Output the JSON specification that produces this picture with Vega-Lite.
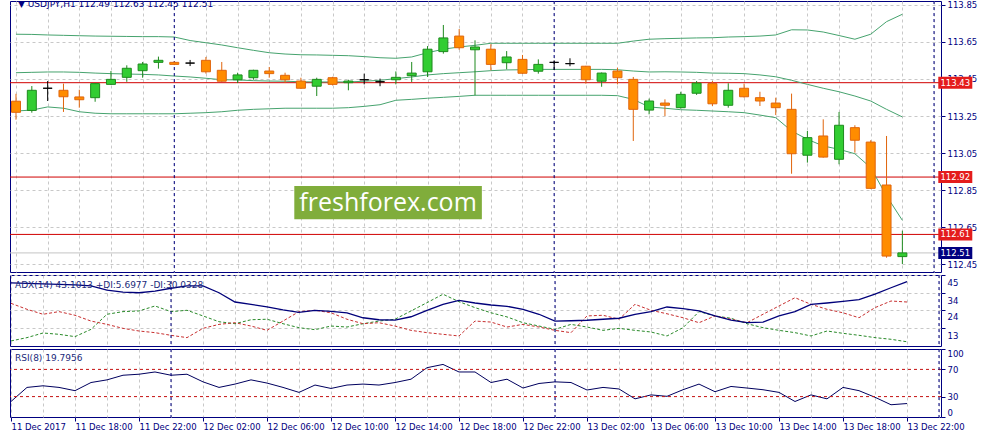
{
  "$schema": "https://vega.github.io/schema/vega-lite/v6.json",
  "background": "white",
  "padding": {"left": 7, "top": 0, "right": 0, "bottom": 0},
  "spacing": 3,
  "bounds": "flush",
  "config": {
    "view": {"stroke": "#000080", "strokeWidth": 1},
    "axis": {
      "labelFont": "DejaVu Sans",
      "labelFontSize": 8.5,
      "labelColor": "#000080",
      "tickColor": "#000080",
      "domainColor": "#000080",
      "gridColor": "#c8c8c8",
      "gridDash": [3, 3]
    }
  },
  "datasets": {
    "bars": [
      {"t": "2017-12-11T14:00:00Z", "o": 113.33, "h": 113.37, "l": 113.23, "c": 113.27, "ub": 113.692, "mb": 113.484, "lb": 113.277, "adx": 40.2, "pdi": 5.2, "mdi": 27.9, "rsi": 22.8},
      {"t": "2017-12-11T15:00:00Z", "o": 113.28, "h": 113.412, "l": 113.268, "c": 113.389, "ub": 113.691, "mb": 113.486, "lb": 113.282, "adx": 39.9, "pdi": 7.2, "mdi": 24.3, "rsi": 43.5},
      {"t": "2017-12-11T16:00:00Z", "o": 113.4, "h": 113.439, "l": 113.331, "c": 113.4, "ub": 113.688, "mb": 113.488, "lb": 113.299, "adx": 39.6, "pdi": 10.0, "mdi": 21.3, "rsi": 45.9},
      {"t": "2017-12-11T17:00:00Z", "o": 113.389, "h": 113.425, "l": 113.272, "c": 113.354, "ub": 113.686, "mb": 113.488, "lb": 113.292, "adx": 39.3, "pdi": 9.2, "mdi": 22.9, "rsi": 43.5},
      {"t": "2017-12-11T18:00:00Z", "o": 113.353, "h": 113.392, "l": 113.295, "c": 113.338, "ub": 113.684, "mb": 113.486, "lb": 113.273, "adx": 39.0, "pdi": 7.8, "mdi": 20.7, "rsi": 38.7},
      {"t": "2017-12-11T19:00:00Z", "o": 113.349, "h": 113.425, "l": 113.327, "c": 113.425, "ub": 113.682, "mb": 113.482, "lb": 113.265, "adx": 38.4, "pdi": 12.2, "mdi": 17.2, "rsi": 50.7},
      {"t": "2017-12-11T20:00:00Z", "o": 113.421, "h": 113.493, "l": 113.418, "c": 113.448, "ub": 113.681, "mb": 113.479, "lb": 113.262, "adx": 35.9, "pdi": 21.3, "mdi": 15.2, "rsi": 54.6},
      {"t": "2017-12-11T21:00:00Z", "o": 113.459, "h": 113.524, "l": 113.435, "c": 113.508, "ub": 113.68, "mb": 113.477, "lb": 113.262, "adx": 34.7, "pdi": 22.9, "mdi": 12.8, "rsi": 61.4},
      {"t": "2017-12-11T22:00:00Z", "o": 113.495, "h": 113.542, "l": 113.457, "c": 113.531, "ub": 113.679, "mb": 113.475, "lb": 113.262, "adx": 34.3, "pdi": 23.3, "mdi": 11.2, "rsi": 62.9},
      {"t": "2017-12-11T23:00:00Z", "o": 113.54, "h": 113.571, "l": 113.506, "c": 113.551, "ub": 113.679, "mb": 113.472, "lb": 113.262, "adx": 35.3, "pdi": 26.3, "mdi": 10.2, "rsi": 66.2},
      {"t": "2017-12-12T00:00:00Z", "o": 113.54, "h": 113.545, "l": 113.525, "c": 113.529, "ub": 113.677, "mb": 113.466, "lb": 113.262, "adx": 37.0, "pdi": 22.9, "mdi": 8.6, "rsi": 61.4},
      {"t": "2017-12-12T01:00:00Z", "o": 113.536, "h": 113.553, "l": 113.52, "c": 113.536, "ub": 113.658, "mb": 113.461, "lb": 113.265, "adx": 38.4, "pdi": 23.7, "mdi": 7.2, "rsi": 62.9},
      {"t": "2017-12-12T02:00:00Z", "o": 113.551, "h": 113.569, "l": 113.479, "c": 113.489, "ub": 113.646, "mb": 113.454, "lb": 113.268, "adx": 38.4, "pdi": 20.3, "mdi": 12.8, "rsi": 51.7},
      {"t": "2017-12-12T03:00:00Z", "o": 113.497, "h": 113.542, "l": 113.435, "c": 113.438, "ub": 113.634, "mb": 113.446, "lb": 113.273, "adx": 34.3, "pdi": 16.8, "mdi": 15.2, "rsi": 43.5},
      {"t": "2017-12-12T04:00:00Z", "o": 113.446, "h": 113.484, "l": 113.428, "c": 113.472, "ub": 113.619, "mb": 113.445, "lb": 113.281, "adx": 28.7, "pdi": 15.6, "mdi": 16.2, "rsi": 48.4},
      {"t": "2017-12-12T05:00:00Z", "o": 113.457, "h": 113.5, "l": 113.446, "c": 113.497, "ub": 113.605, "mb": 113.441, "lb": 113.286, "adx": 27.3, "pdi": 18.0, "mdi": 14.2, "rsi": 54.6},
      {"t": "2017-12-12T06:00:00Z", "o": 113.493, "h": 113.515, "l": 113.457, "c": 113.479, "ub": 113.592, "mb": 113.439, "lb": 113.289, "adx": 25.7, "pdi": 18.3, "mdi": 11.6, "rsi": 49.9},
      {"t": "2017-12-12T07:00:00Z", "o": 113.47, "h": 113.484, "l": 113.428, "c": 113.446, "ub": 113.585, "mb": 113.438, "lb": 113.292, "adx": 23.9, "pdi": 15.6, "mdi": 17.2, "rsi": 43.5},
      {"t": "2017-12-12T08:00:00Z", "o": 113.439, "h": 113.457, "l": 113.397, "c": 113.4, "ub": 113.581, "mb": 113.435, "lb": 113.292, "adx": 22.5, "pdi": 13.2, "mdi": 22.9, "rsi": 36.2},
      {"t": "2017-12-12T09:00:00Z", "o": 113.411, "h": 113.457, "l": 113.358, "c": 113.448, "ub": 113.58, "mb": 113.434, "lb": 113.292, "adx": 23.7, "pdi": 12.0, "mdi": 23.7, "rsi": 47.0},
      {"t": "2017-12-12T10:00:00Z", "o": 113.457, "h": 113.462, "l": 113.415, "c": 113.421, "ub": 113.578, "mb": 113.434, "lb": 113.292, "adx": 23.1, "pdi": 14.2, "mdi": 22.2, "rsi": 42.0},
      {"t": "2017-12-12T11:00:00Z", "o": 113.43, "h": 113.446, "l": 113.389, "c": 113.439, "ub": 113.576, "mb": 113.434, "lb": 113.295, "adx": 22.2, "pdi": 13.6, "mdi": 18.3, "rsi": 47.0},
      {"t": "2017-12-12T12:00:00Z", "o": 113.446, "h": 113.479, "l": 113.421, "c": 113.446, "ub": 113.571, "mb": 113.438, "lb": 113.302, "adx": 19.2, "pdi": 15.6, "mdi": 15.6, "rsi": 48.4},
      {"t": "2017-12-12T13:00:00Z", "o": 113.435, "h": 113.452, "l": 113.411, "c": 113.435, "ub": 113.565, "mb": 113.443, "lb": 113.311, "adx": 18.0, "pdi": 17.2, "mdi": 16.2, "rsi": 47.0},
      {"t": "2017-12-12T14:00:00Z", "o": 113.446, "h": 113.491, "l": 113.421, "c": 113.459, "ub": 113.562, "mb": 113.452, "lb": 113.335, "adx": 17.8, "pdi": 18.3, "mdi": 14.2, "rsi": 50.7},
      {"t": "2017-12-12T15:00:00Z", "o": 113.468, "h": 113.542, "l": 113.434, "c": 113.482, "ub": 113.569, "mb": 113.461, "lb": 113.34, "adx": 19.8, "pdi": 23.3, "mdi": 11.6, "rsi": 55.6},
      {"t": "2017-12-12T16:00:00Z", "o": 113.489, "h": 113.628, "l": 113.461, "c": 113.611, "ub": 113.592, "mb": 113.472, "lb": 113.346, "adx": 23.7, "pdi": 28.3, "mdi": 10.2, "rsi": 72.5},
      {"t": "2017-12-12T17:00:00Z", "o": 113.598, "h": 113.742, "l": 113.587, "c": 113.672, "ub": 113.611, "mb": 113.479, "lb": 113.351, "adx": 27.3, "pdi": 33.4, "mdi": 9.2, "rsi": 77.3},
      {"t": "2017-12-12T18:00:00Z", "o": 113.682, "h": 113.72, "l": 113.608, "c": 113.619, "ub": 113.623, "mb": 113.484, "lb": 113.356, "adx": 29.7, "pdi": 28.9, "mdi": 8.2, "rsi": 66.2},
      {"t": "2017-12-12T19:00:00Z", "o": 113.608, "h": 113.659, "l": 113.362, "c": 113.623, "ub": 113.632, "mb": 113.489, "lb": 113.362, "adx": 28.1, "pdi": 25.3, "mdi": 17.2, "rsi": 66.2},
      {"t": "2017-12-12T20:00:00Z", "o": 113.611, "h": 113.638, "l": 113.497, "c": 113.529, "ub": 113.643, "mb": 113.495, "lb": 113.362, "adx": 26.9, "pdi": 22.2, "mdi": 16.6, "rsi": 50.7},
      {"t": "2017-12-12T21:00:00Z", "o": 113.538, "h": 113.601, "l": 113.502, "c": 113.569, "ub": 113.643, "mb": 113.499, "lb": 113.362, "adx": 26.1, "pdi": 19.7, "mdi": 13.6, "rsi": 55.6},
      {"t": "2017-12-12T22:00:00Z", "o": 113.556, "h": 113.58, "l": 113.478, "c": 113.481, "ub": 113.643, "mb": 113.5, "lb": 113.362, "adx": 24.3, "pdi": 16.2, "mdi": 15.2, "rsi": 42.6},
      {"t": "2017-12-12T23:00:00Z", "o": 113.492, "h": 113.556, "l": 113.479, "c": 113.529, "ub": 113.643, "mb": 113.502, "lb": 113.362, "adx": 21.3, "pdi": 14.2, "mdi": 13.6, "rsi": 49.3},
      {"t": "2017-12-13T00:00:00Z", "o": 113.54, "h": 113.551, "l": 113.499, "c": 113.54, "ub": 113.643, "mb": 113.502, "lb": 113.362, "adx": 17.2, "pdi": 12.2, "mdi": 11.6, "rsi": 51.7},
      {"t": "2017-12-13T01:00:00Z", "o": 113.533, "h": 113.562, "l": 113.519, "c": 113.533, "ub": 113.643, "mb": 113.502, "lb": 113.362, "adx": 17.4, "pdi": 15.2, "mdi": 10.2, "rsi": 50.7},
      {"t": "2017-12-13T02:00:00Z", "o": 113.519, "h": 113.521, "l": 113.425, "c": 113.446, "ub": 113.643, "mb": 113.502, "lb": 113.362, "adx": 17.7, "pdi": 13.6, "mdi": 20.3, "rsi": 39.7},
      {"t": "2017-12-13T03:00:00Z", "o": 113.438, "h": 113.485, "l": 113.408, "c": 113.482, "ub": 113.643, "mb": 113.502, "lb": 113.362, "adx": 18.3, "pdi": 11.6, "mdi": 20.7, "rsi": 43.5},
      {"t": "2017-12-13T04:00:00Z", "o": 113.493, "h": 113.511, "l": 113.421, "c": 113.457, "ub": 113.643, "mb": 113.5, "lb": 113.36, "adx": 18.9, "pdi": 12.8, "mdi": 18.3, "rsi": 41.2},
      {"t": "2017-12-13T05:00:00Z", "o": 113.448, "h": 113.461, "l": 113.115, "c": 113.286, "ub": 113.655, "mb": 113.493, "lb": 113.34, "adx": 21.3, "pdi": 11.6, "mdi": 27.3, "rsi": 26.7},
      {"t": "2017-12-13T06:00:00Z", "o": 113.282, "h": 113.344, "l": 113.259, "c": 113.331, "ub": 113.665, "mb": 113.488, "lb": 113.299, "adx": 22.9, "pdi": 10.6, "mdi": 23.7, "rsi": 32.5},
      {"t": "2017-12-13T07:00:00Z", "o": 113.32, "h": 113.34, "l": 113.25, "c": 113.308, "ub": 113.668, "mb": 113.489, "lb": 113.292, "adx": 25.7, "pdi": 8.2, "mdi": 21.6, "rsi": 30.4},
      {"t": "2017-12-13T08:00:00Z", "o": 113.295, "h": 113.381, "l": 113.29, "c": 113.367, "ub": 113.67, "mb": 113.488, "lb": 113.284, "adx": 24.7, "pdi": 13.2, "mdi": 19.2, "rsi": 40.1},
      {"t": "2017-12-13T09:00:00Z", "o": 113.373, "h": 113.439, "l": 113.364, "c": 113.428, "ub": 113.672, "mb": 113.486, "lb": 113.281, "adx": 23.3, "pdi": 22.9, "mdi": 16.2, "rsi": 48.4},
      {"t": "2017-12-13T10:00:00Z", "o": 113.425, "h": 113.439, "l": 113.304, "c": 113.316, "ub": 113.673, "mb": 113.482, "lb": 113.277, "adx": 20.3, "pdi": 20.3, "mdi": 20.3, "rsi": 37.2},
      {"t": "2017-12-13T11:00:00Z", "o": 113.308, "h": 113.427, "l": 113.295, "c": 113.389, "ub": 113.677, "mb": 113.481, "lb": 113.273, "adx": 17.8, "pdi": 18.9, "mdi": 18.3, "rsi": 44.9},
      {"t": "2017-12-13T12:00:00Z", "o": 113.4, "h": 113.425, "l": 113.35, "c": 113.354, "ub": 113.679, "mb": 113.479, "lb": 113.268, "adx": 16.2, "pdi": 15.6, "mdi": 16.2, "rsi": 42.6},
      {"t": "2017-12-13T13:00:00Z", "o": 113.349, "h": 113.381, "l": 113.304, "c": 113.331, "ub": 113.682, "mb": 113.472, "lb": 113.255, "adx": 16.6, "pdi": 13.2, "mdi": 21.3, "rsi": 40.1},
      {"t": "2017-12-13T14:00:00Z", "o": 113.32, "h": 113.349, "l": 113.255, "c": 113.295, "ub": 113.688, "mb": 113.462, "lb": 113.241, "adx": 20.3, "pdi": 11.6, "mdi": 26.3, "rsi": 36.2},
      {"t": "2017-12-13T15:00:00Z", "o": 113.286, "h": 113.371, "l": 112.938, "c": 113.046, "ub": 113.716, "mb": 113.443, "lb": 113.169, "adx": 22.9, "pdi": 10.2, "mdi": 31.3, "rsi": 22.8},
      {"t": "2017-12-13T16:00:00Z", "o": 113.038, "h": 113.169, "l": 112.998, "c": 113.133, "ub": 113.715, "mb": 113.421, "lb": 113.124, "adx": 27.3, "pdi": 8.2, "mdi": 27.3, "rsi": 32.5},
      {"t": "2017-12-13T17:00:00Z", "o": 113.142, "h": 113.232, "l": 113.025, "c": 113.028, "ub": 113.704, "mb": 113.4, "lb": 113.088, "adx": 28.1, "pdi": 11.2, "mdi": 24.3, "rsi": 26.7},
      {"t": "2017-12-13T18:00:00Z", "o": 113.016, "h": 113.272, "l": 112.989, "c": 113.2, "ub": 113.685, "mb": 113.381, "lb": 113.07, "adx": 29.1, "pdi": 9.8, "mdi": 22.2, "rsi": 43.5},
      {"t": "2017-12-13T19:00:00Z", "o": 113.187, "h": 113.2, "l": 113.052, "c": 113.119, "ub": 113.665, "mb": 113.358, "lb": 113.046, "adx": 30.1, "pdi": 8.6, "mdi": 19.2, "rsi": 38.7},
      {"t": "2017-12-13T20:00:00Z", "o": 113.109, "h": 113.119, "l": 112.855, "c": 112.859, "ub": 113.692, "mb": 113.331, "lb": 112.971, "adx": 33.4, "pdi": 7.2, "mdi": 25.3, "rsi": 29.0},
      {"t": "2017-12-13T21:00:00Z", "o": 112.877, "h": 113.142, "l": 112.484, "c": 112.493, "ub": 113.76, "mb": 113.286, "lb": 112.818, "adx": 37.3, "pdi": 6.2, "mdi": 29.3, "rsi": 18.0},
      {"t": "2017-12-13T22:00:00Z", "o": 112.49, "h": 112.63, "l": 112.45, "c": 112.51, "ub": 113.8, "mb": 113.245, "lb": 112.686, "adx": 41.0, "pdi": 4.7, "mdi": 28.7, "rsi": 19.8}
    ],
    "sep": [
      {"t": "2017-12-12T00:00:00Z"},
      {"t": "2017-12-13T00:00:00Z"},
      {"t": "2017-12-14T00:00:00Z"}
    ],
    "levels": [
      {"p": 113.43, "kind": "level"},
      {"p": 112.92, "kind": "level"},
      {"p": 112.61, "kind": "level"},
      {"p": 112.51, "kind": "bid"}
    ]
  },
  "vconcat": [
    {
      "width": 931,
      "height": 271,
      "data": {"name": "bars"},
      "layer": [
        {
          "data": {"name": "levels"},
          "mark": {"type": "rule", "strokeWidth": 1},
          "encoding": {
            "y": {
              "field": "p", "type": "quantitative", "title": null,
              "scale": {"domain": [112.4068, 113.8716], "nice": false, "zero": false},
              "axis": {
                "orient": "right",
                "values": [113.85, 113.65, 113.45, 113.25, 113.05, 112.85, 112.65, 112.45],
                "tickCount": 50,
                "format": ".2f", "grid": true, "tickSize": 4, "labelPadding": 2, "domain": false, "labelOverlap": false
              }
            },
            "stroke": {"condition": {"test": "datum.kind == 'bid'", "value": "#c4c4c4"}, "value": "#d00000"}
          }
        },
        {
          "mark": {"type": "line", "color": "#46a36e", "strokeWidth": 1},
          "encoding": {
            "x": {
              "field": "t", "type": "temporal", "title": null,
              "scale": {"type": "utc", "domain": [1513000575000, 1513210050000]},
              "axis": {"labels": false, "ticks": false, "domain": false, "grid": true, "tickCount": 60,
                "values": [1513000800000, 1513008000000, 1513015200000, 1513022400000, 1513029600000, 1513036800000, 1513044000000, 1513051200000, 1513058400000, 1513065600000, 1513072800000, 1513080000000, 1513087200000, 1513094400000, 1513101600000, 1513108800000, 1513116000000, 1513123200000, 1513130400000, 1513137600000, 1513144800000, 1513152000000, 1513159200000, 1513166400000, 1513173600000, 1513180800000, 1513188000000, 1513195200000, 1513202400000, 1513209600000]}
            },
            "y": {"field": "ub", "type": "quantitative", "title": null, "scale": {"domain": [112.4068, 113.8716], "nice": false, "zero": false}}
          }
        },
        {
          "mark": {"type": "line", "color": "#46a36e", "strokeWidth": 1},
          "encoding": {
            "x": {"field": "t", "type": "temporal", "title": null, "scale": {"type": "utc", "domain": [1513000575000, 1513210050000]}},
            "y": {"field": "mb", "type": "quantitative", "title": null, "scale": {"domain": [112.4068, 113.8716], "nice": false, "zero": false}}
          }
        },
        {
          "mark": {"type": "line", "color": "#46a36e", "strokeWidth": 1},
          "encoding": {
            "x": {"field": "t", "type": "temporal", "title": null, "scale": {"type": "utc", "domain": [1513000575000, 1513210050000]}},
            "y": {"field": "lb", "type": "quantitative", "title": null, "scale": {"domain": [112.4068, 113.8716], "nice": false, "zero": false}}
          }
        },
        {
          "data": {"name": "sep"},
          "mark": {"type": "rule", "color": "#000080", "strokeDash": [3, 3], "strokeWidth": 1},
          "encoding": {
            "x": {"field": "t", "type": "temporal", "title": null, "scale": {"type": "utc", "domain": [1513000575000, 1513210050000]}}
          }
        },
        {
          "mark": {"type": "rule", "strokeWidth": 1},
          "encoding": {
            "x": {"field": "t", "type": "temporal", "title": null, "scale": {"type": "utc", "domain": [1513000575000, 1513210050000]}},
            "y": {"field": "l", "type": "quantitative", "title": null, "scale": {"domain": [112.4068, 113.8716], "nice": false, "zero": false}},
            "y2": {"field": "h"},
            "stroke": {"condition": [{"test": "datum.c > datum.o", "value": "#1e8a1e"}, {"test": "datum.c < datum.o", "value": "#e0650c"}], "value": "#000000"}
          }
        },
        {
          "mark": {"type": "bar", "size": 9, "strokeWidth": 1},
          "encoding": {
            "x": {"field": "t", "type": "temporal", "title": null, "scale": {"type": "utc", "domain": [1513000575000, 1513210050000]}},
            "y": {"field": "o", "type": "quantitative", "title": null, "scale": {"domain": [112.4068, 113.8716], "nice": false, "zero": false}},
            "y2": {"field": "c"},
            "fill": {"condition": [{"test": "datum.c > datum.o", "value": "#32cd32"}, {"test": "datum.c < datum.o", "value": "#ff8c00"}], "value": "#000000"},
            "stroke": {"condition": [{"test": "datum.c > datum.o", "value": "#1e8a1e"}, {"test": "datum.c < datum.o", "value": "#e0650c"}], "value": "#000000"}
          }
        },
        {
          "data": {"values": [{"w": "freshforex.com"}]},
          "mark": {"type": "rect", "color": "#80ad3b"},
          "encoding": {
            "x": {"datum": 1513064100000, "type": "temporal", "title": null, "scale": {"type": "utc", "domain": [1513000575000, 1513210050000]}},
            "x2": {"datum": 1513106760000},
            "y": {"datum": 112.8716, "type": "quantitative", "title": null, "scale": {"domain": [112.4068, 113.8716], "nice": false, "zero": false}},
            "y2": {"datum": 112.6916}
          }
        },
        {
          "data": {"values": [{"w": "freshforex.com"}]},
          "mark": {"type": "text", "font": "Open Sans", "fontSize": 25, "color": "white", "align": "center", "baseline": "middle"},
          "encoding": {
            "x": {"datum": 1513085430000, "type": "temporal", "title": null, "scale": {"type": "utc", "domain": [1513000575000, 1513210050000]}},
            "y": {"datum": 112.782, "type": "quantitative", "title": null, "scale": {"domain": [112.4068, 113.8716], "nice": false, "zero": false}},
            "text": {"field": "w"}
          }
        },
        {
          "data": {"values": [{"h": "▼  USDJPY,H1 112.49 112.63 112.45 112.51"}]},
          "mark": {"type": "text", "font": "DejaVu Sans", "fontSize": 9, "color": "#000080", "align": "left", "baseline": "middle", "clip": true},
          "encoding": {
            "x": {"datum": 1513001250000, "type": "temporal", "title": null, "scale": {"type": "utc", "domain": [1513000575000, 1513210050000]}},
            "y": {"datum": 113.857, "type": "quantitative", "title": null, "scale": {"domain": [112.4068, 113.8716], "nice": false, "zero": false}},
            "text": {"field": "h"}
          }
        },
        {
          "data": {"name": "levels"},
          "mark": {"type": "tick", "orient": "horizontal", "size": 34, "thickness": 12, "opacity": 1},
          "encoding": {
            "x": {"datum": 1513214437000, "type": "temporal", "title": null, "scale": {"type": "utc", "domain": [1513000575000, 1513210050000]}},
            "y": {"field": "p", "type": "quantitative", "title": null, "scale": {"domain": [112.4068, 113.8716], "nice": false, "zero": false}},
            "color": {"condition": {"test": "datum.kind == 'bid'", "value": "#000080"}, "value": "#e41c1c"}
          }
        },
        {
          "data": {"name": "levels"},
          "mark": {"type": "text", "font": "DejaVu Sans", "fontSize": 8.5, "color": "white", "align": "center", "baseline": "middle"},
          "encoding": {
            "x": {"datum": 1513214437000, "type": "temporal", "title": null, "scale": {"type": "utc", "domain": [1513000575000, 1513210050000]}},
            "y": {"field": "p", "type": "quantitative", "title": null, "scale": {"domain": [112.4068, 113.8716], "nice": false, "zero": false}},
            "text": {"field": "p", "type": "quantitative", "format": ".2f"}
          }
        }
      ]
    },
    {
      "width": 931,
      "height": 71,
      "data": {"name": "bars"},
      "layer": [
        {
          "mark": {"type": "line", "color": "#2a8a2a", "strokeWidth": 1, "strokeDash": [3, 2]},
          "encoding": {
            "x": {
              "field": "t", "type": "temporal", "title": null,
              "scale": {"type": "utc", "domain": [1513000575000, 1513210050000]},
              "axis": {"labels": false, "ticks": false, "domain": false, "grid": true, "tickCount": 60,
                "values": [1513000800000, 1513008000000, 1513015200000, 1513022400000, 1513029600000, 1513036800000, 1513044000000, 1513051200000, 1513058400000, 1513065600000, 1513072800000, 1513080000000, 1513087200000, 1513094400000, 1513101600000, 1513108800000, 1513116000000, 1513123200000, 1513130400000, 1513137600000, 1513144800000, 1513152000000, 1513159200000, 1513166400000, 1513173600000, 1513180800000, 1513188000000, 1513195200000, 1513202400000, 1513209600000]}
            },
            "y": {
              "field": "pdi", "type": "quantitative", "title": null,
              "scale": {"domain": [2.15, 45], "nice": false, "zero": false},
              "axis": {"orient": "right", "values": [45, 34, 24, 13], "tickCount": 20, "grid": true, "tickSize": 4, "labelPadding": 2, "domain": false, "labelBaseline": "top", "labelOffset": 3, "labelOverlap": false}
            }
          }
        },
        {
          "mark": {"type": "line", "color": "#c83030", "strokeWidth": 1, "strokeDash": [3, 2]},
          "encoding": {
            "x": {"field": "t", "type": "temporal", "title": null, "scale": {"type": "utc", "domain": [1513000575000, 1513210050000]}},
            "y": {"field": "mdi", "type": "quantitative", "title": null, "scale": {"domain": [2.15, 45], "nice": false, "zero": false}}
          }
        },
        {
          "mark": {"type": "line", "color": "#00007a", "strokeWidth": 1.3},
          "encoding": {
            "x": {"field": "t", "type": "temporal", "title": null, "scale": {"type": "utc", "domain": [1513000575000, 1513210050000]}},
            "y": {"field": "adx", "type": "quantitative", "title": null, "scale": {"domain": [2.15, 45], "nice": false, "zero": false}}
          }
        },
        {
          "data": {"name": "sep"},
          "mark": {"type": "rule", "color": "#000080", "strokeDash": [3, 3], "strokeWidth": 1},
          "encoding": {
            "x": {"field": "t", "type": "temporal", "title": null, "scale": {"type": "utc", "domain": [1513000575000, 1513210050000]}}
          }
        },
        {
          "data": {"values": [{"h": "ADX(14) 43.1013 +DI:5.6977 -DI:30.0328"}]},
          "mark": {"type": "text", "font": "DejaVu Sans", "fontSize": 9, "color": "#1a2a7a", "align": "left", "baseline": "middle"},
          "encoding": {
            "x": {"datum": 1513001700000, "type": "temporal", "title": null, "scale": {"type": "utc", "domain": [1513000575000, 1513210050000]}},
            "y": {"datum": 38.97, "type": "quantitative", "title": null, "scale": {"domain": [2.15, 45], "nice": false, "zero": false}},
            "text": {"field": "h"}
          }
        }
      ]
    },
    {
      "width": 931,
      "height": 68,
      "data": {"name": "bars"},
      "layer": [
        {
          "mark": {"type": "line", "color": "#00005e", "strokeWidth": 1},
          "encoding": {
            "x": {
              "field": "t", "type": "temporal", "title": null,
              "scale": {"type": "utc", "domain": [1513000575000, 1513210050000]},
              "axis": {
                "orient": "bottom", "grid": true, "domain": false, "tickCount": 60,
                "values": [1513000800000, 1513008000000, 1513015200000, 1513022400000, 1513029600000, 1513036800000, 1513044000000, 1513051200000, 1513058400000, 1513065600000, 1513072800000, 1513080000000, 1513087200000, 1513094400000, 1513101600000, 1513108800000, 1513116000000, 1513123200000, 1513130400000, 1513137600000, 1513144800000, 1513152000000, 1513159200000, 1513166400000, 1513173600000, 1513180800000, 1513188000000, 1513195200000, 1513202400000, 1513209600000],
                "tickSize": 4, "labelPadding": 1, "labelAlign": "left", "labelBaseline": "top",
                "labelFlush": false, "labelOverlap": false, "labelBound": false,
                "labelExpr": "utchours(datum.value) % 4 != 2 ? '' : (utcFormat(datum.value, '%d %H') == '11 14' ? '11 Dec 2017' : utcFormat(datum.value, '%d %b %H:%M'))",
                "tickOpacity": {"condition": {"test": "utchours(datum.value) % 4 == 2", "value": 1}, "value": 0}
              }
            },
            "y": {
              "field": "rsi", "type": "quantitative", "title": null,
              "scale": {"domain": [0, 100], "nice": false, "zero": false},
              "axis": {"orient": "right", "values": [100, 70, 30, 0], "tickCount": 20, "grid": false, "tickSize": 4, "labelPadding": 2, "domain": false, "labelFlush": true, "labelOverlap": false}
            }
          }
        },
        {
          "data": {"values": [{"lv": 70}, {"lv": 30}]},
          "mark": {"type": "rule", "color": "#c41010", "strokeDash": [3, 3], "strokeWidth": 1},
          "encoding": {
            "y": {"field": "lv", "type": "quantitative", "title": null, "scale": {"domain": [0, 100], "nice": false, "zero": false}}
          }
        },
        {
          "data": {"name": "sep"},
          "mark": {"type": "rule", "color": "#000080", "strokeDash": [3, 3], "strokeWidth": 1},
          "encoding": {
            "x": {"field": "t", "type": "temporal", "title": null, "scale": {"type": "utc", "domain": [1513000575000, 1513210050000]}}
          }
        },
        {
          "data": {"values": [{"h": "RSI(8) 19.7956"}]},
          "mark": {"type": "text", "font": "DejaVu Sans", "fontSize": 9, "color": "#1a2a7a", "align": "left", "baseline": "middle"},
          "encoding": {
            "x": {"datum": 1513001700000, "type": "temporal", "title": null, "scale": {"type": "utc", "domain": [1513000575000, 1513210050000]}},
            "y": {"datum": 86.8, "type": "quantitative", "title": null, "scale": {"domain": [0, 100], "nice": false, "zero": false}},
            "text": {"field": "h"}
          }
        }
      ]
    }
  ]
}
